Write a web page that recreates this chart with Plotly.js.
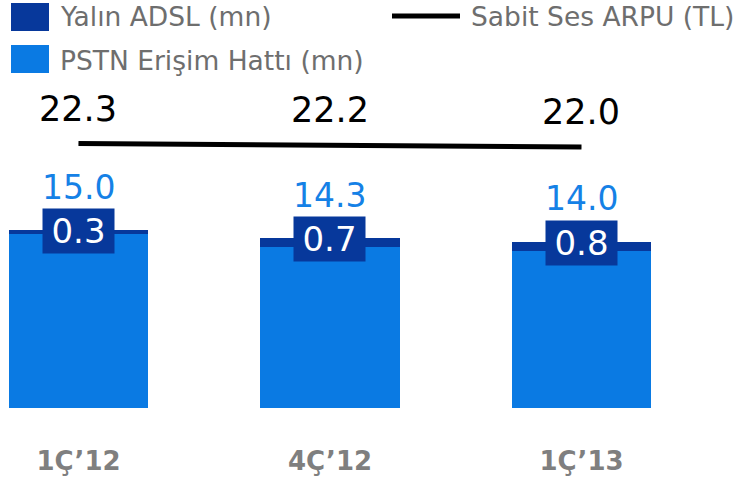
<!DOCTYPE html>
<html>
<head>
<meta charset="utf-8">
<script src="https://cdn.plot.ly/plotly-3.0.1.min.js"></script>
<style>html,body{margin:0;padding:0;background:#fff}#chart{width:749px;height:477px}</style>
</head>
<body>
<div id="chart"></div>
<script>
const categories = ["1Ç’12", "4Ç’12", "1Ç’13"];
const pstn = [14.7, 13.6, 13.2];
const adsl = [0.3, 0.7, 0.8];
const totals = [15.0, 14.3, 14.0];
const arpu = [22.3, 22.2, 22.0];
const seriesNames = ["Yalın ADSL (mn)", "PSTN Erişim Hattı (mn)", "Sabit Ses ARPU (TL)"];

const DARK = "#07389b", LIGHT = "#0a7ae3", LABELBLUE = "#1581e6", GRAY = "#6e6e6e";
const FONT = "DejaVu Sans";

const traces = [
  {type: "bar", x: categories, y: pstn, name: seriesNames[1], marker: {color: LIGHT}, width: 0.553, hoverinfo: "skip"},
  {type: "bar", x: categories, y: adsl, name: seriesNames[0], marker: {color: DARK}, width: 0.553, hoverinfo: "skip"},
  {type: "scatter", mode: "lines", x: categories, y: arpu, name: seriesNames[2], line: {color: "#000", width: 5}, hoverinfo: "skip"}
];

const annotations = [];
categories.forEach((c, i) => {
  annotations.push({x: c, y: arpu[i], text: arpu[i].toFixed(1), showarrow: false, yshift: 35,
    font: {family: FONT, size: 35, color: "#000"}, xanchor: "center", yanchor: "middle"});
  annotations.push({x: c, y: totals[i], text: totals[i].toFixed(1), showarrow: false, yshift: 43,
    font: {family: FONT, size: 33, color: LABELBLUE}, xanchor: "center", yanchor: "middle"});
  annotations.push({x: c, y: totals[i], text: adsl[i].toFixed(1), showarrow: false, yshift: -1,
    font: {family: FONT, size: 34, color: "#fff"}, bgcolor: DARK, width: 71, height: 44,
    align: "center", valign: "middle", borderpad: 0, xanchor: "center", yanchor: "middle"});
});

// legend drawn as shapes + text (pixel-based paper coords; plot area height 408)
const H = 408;
const py = p => 1 - p / H;
const shapes = [
  {type: "rect", xref: "paper", yref: "paper", x0: 11/749, x1: 49/749, y0: py(31), y1: py(3), fillcolor: DARK, line: {width: 0}},
  {type: "rect", xref: "paper", yref: "paper", x0: 11/749, x1: 49/749, y0: py(73), y1: py(45), fillcolor: LIGHT, line: {width: 0}},
  {type: "line", xref: "paper", yref: "paper", x0: 392/749, x1: 460/749, y0: py(16), y1: py(16), line: {color: "#000", width: 5}}
];
const legText = (t, xpx, ypx) => ({xref: "paper", yref: "paper", x: xpx/749, y: py(ypx), text: t, showarrow: false,
  xanchor: "left", yanchor: "middle", font: {family: FONT, size: 26.5, color: GRAY}});
annotations.push(legText(seriesNames[0], 58, 17));
annotations.push(legText(seriesNames[1], 58, 60));
annotations.push(legText(seriesNames[2], 469, 17));

const layout = {
  width: 749, height: 477,
  margin: {l: 0, r: 0, t: 0, b: 69},
  paper_bgcolor: "#fff", plot_bgcolor: "#fff",
  barmode: "stack", showlegend: false,
  xaxis: {type: "category", range: [-0.312, 2.666], showgrid: false, zeroline: false, showline: false,
    ticks: "", ticklabelstandoff: 35, tickfont: {family: FONT, size: 26, color: "#7f7f7f", weight: "bold"}},
  yaxis: {range: [0, 34.4], visible: false, showgrid: false, zeroline: false},
  annotations: annotations,
  shapes: shapes
};

Plotly.newPlot("chart", traces, layout, {staticPlot: true, displayModeBar: false});
</script>
</body>
</html>
